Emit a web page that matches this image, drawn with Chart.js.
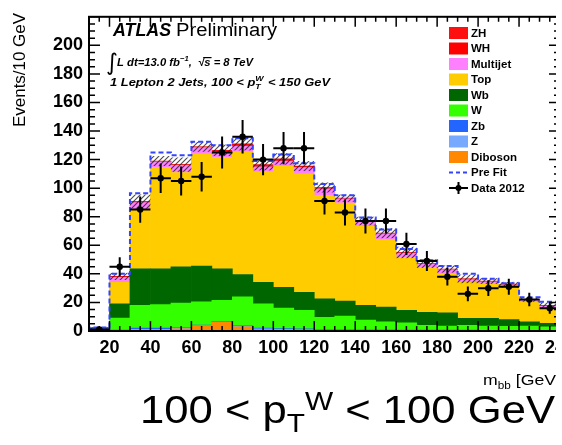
<!DOCTYPE html>
<html>
<head>
<meta charset="utf-8">
<script src="https://cdn.jsdelivr.net/npm/chart.js@4.4.1/dist/chart.umd.min.js"></script>
<style>
  html, body { margin: 0; padding: 0; background: #fff; overflow: hidden; width: 562px; height: 445px; }
  #clip { position: relative; width: 556px; height: 445px; overflow: hidden; }
  #wrap { position: relative; width: 600px; height: 445px; }
</style>
</head>
<body>
<div id="clip"><div id="wrap"><canvas id="c" width="600" height="445"></canvas></div></div>
<script>
// m_bb bin centres (10 GeV bins, 10 - 240 GeV)
const massBins = [15, 25, 35, 45, 55, 65, 75, 85, 95, 105, 115, 125, 135, 145, 155, 165, 175, 185, 195, 205, 215, 225, 235];

// Stacked background / signal contributions (events per bin)
const diboson  = [0, 0, 0.3, 0.3, 1.5, 3.5, 6.0, 3.0, 1.2, 0.6, 0.5, 0.4, 0.4, 0.3, 0.3, 0.3, 0.2, 0.2, 0.2, 0.2, 0.1, 0.1, 0.1];
const zLight   = [0.5, 0.3, 0.8, 0.8, 0.4, 0.3, 0.3, 0.3, 0.4, 0.5, 0.5, 0.4, 0.4, 0.3, 0.3, 0.2, 0.2, 0.2, 0.2, 0.1, 0.1, 0.1, 0.1];
const zHeavy   = [1.5, 0.3, 1.0, 1.0, 0.4, 0.3, 0.3, 0.3, 0.4, 0.6, 0.6, 0.4, 0.4, 0.3, 0.3, 0.2, 0.2, 0.2, 0.2, 0.1, 0.1, 0.1, 0.1];
const wLight   = [0, 8.4, 15.9, 16.4, 17.2, 16.4, 14.9, 20.4, 17.0, 14.3, 12.9, 8.3, 9.3, 6.7, 5.5, 5.0, 3.4, 2.9, 3.4, 3.1, 2.9, 3.2, 2.7];
const wHeavy   = [0, 10, 25.5, 25, 25.5, 25, 22, 15.5, 15, 14.6, 12.5, 13.1, 10.5, 10.4, 10.4, 8.8, 9, 9.2, 4.8, 5.3, 4.8, 2.9, 2.3];
const topQuark = [0, 15, 41.5, 71, 66, 78.5, 78, 86, 77.5, 84.9, 83, 72.4, 68.5, 55.5, 47.2, 37, 31.5, 27.3, 25.2, 24.2, 22.6, 13.9, 11.1];
const multijet = [0, 3.5, 5, 4, 5, 4.5, 4, 4, 3.5, 3.5, 4.5, 4.5, 3, 3, 4, 3, 2.3, 3, 2, 1.5, 1.4, 1.2, 1.1];
const whSignal = [0, 0.4, 0.4, 0.3, 0.3, 0.3, 0.6, 0.9, 0.9, 0.9, 0.6, 0.6, 0.3, 0.3, 0.3, 0.3, 0.2, 0.2, 0.3, 0.3, 0.2, 0.3, 0.3];
const zhSignal = [0, 0.3, 0.2, 0.2, 0.2, 0.2, 0.4, 0.6, 0.6, 0.6, 0.4, 0.4, 0.2, 0.2, 0.2, 0.2, 0.2, 0.2, 0.2, 0.2, 0.2, 0.2, 0.2];

// Systematic uncertainty on the total prediction (half width of hatched band)
const systUnc  = [0.5, 2.5, 5, 3.5, 5, 3.5, 4, 4.5, 4, 4, 3.5, 3.5, 2.5, 3, 3.5, 4, 3, 2.5, 3, 2, 2, 1.5, 2];

// Pre-fit total prediction
const preFit   = [2.5, 40, 96.5, 125, 123, 132.5, 130, 135, 119, 123.5, 117.5, 103, 95, 79.5, 71, 57.5, 49.5, 45.5, 40, 36.5, 33.5, 23.7, 20.5];

// Data 2012 and statistical errors
const data2012 = [1, 45, 85, 107, 105, 108, 125, 136, 120, 128, 128, 91, 83, 77, 77, 61, 49, 38, 26, 30, 31, 22, 16];
const dataErr  = [1, 6.7, 9.2, 10.3, 10.2, 10.4, 11.2, 11.7, 11, 11.3, 11.3, 9.5, 9.1, 8.8, 8.8, 7.8, 7, 6.2, 5.1, 5.5, 5.6, 4.7, 4];

// Axis tick labels
const xTickLabels = [20, 40, 60, 80, 100, 120, 140, 160, 180, 200, 220, 240];
const yTickLabels = [0, 20, 40, 60, 80, 100, 120, 140, 160, 180, 200];

const BIN_W = 10;
const FONT = "'Liberation Sans', Arial, Helvetica, sans-serif";

// stack from bottom to top
const stackDefs = [
  { label: 'Diboson',  values: diboson,  color: '#ff8800' },
  { label: 'Z',        values: zLight,   color: '#77aaff' },
  { label: 'Zb',       values: zHeavy,   color: '#2266ff' },
  { label: 'W',        values: wLight,   color: '#33ff00' },
  { label: 'Wb',       values: wHeavy,   color: '#006600' },
  { label: 'Top',      values: topQuark, color: '#ffcc00' },
  { label: 'Multijet', values: multijet, color: '#ff80ff' },
  { label: 'WH',       values: whSignal, color: '#ff0000' },
  { label: 'ZH',       values: zhSignal, color: '#ff1010' },
];

const totals = massBins.map((_, i) => stackDefs.reduce((s, d) => s + d.values[i], 0));

// pre-fit as a step line through the bin edges
const preFitSteps = [{ x: massBins[0] - BIN_W / 2, y: 0 }];
massBins.forEach((c, i) => preFitSteps.push({ x: c + BIN_W / 2, y: preFit[i] }));

const datasets = [
  {
    type: 'line', label: 'Data 2012', stack: 'data',
    data: massBins.map((c, i) => ({ x: c, y: data2012[i] })),
    showLine: false, pointRadius: 3.2, pointBackgroundColor: '#000', pointBorderColor: '#000', pointBorderWidth: 0
  },
  {
    type: 'line', label: 'Pre Fit', stack: 'prefit',
    data: preFitSteps, stepped: 'after', fill: false,
    borderColor: '#3344ff', borderWidth: 2, borderDash: [5, 3], pointRadius: 0
  },
  ...stackDefs.map(d => ({
    type: 'bar', label: d.label,
    data: massBins.map((c, i) => ({ x: c, y: d.values[i] })),
    backgroundColor: d.color, borderWidth: 0, barPercentage: 1, categoryPercentage: 1
  }))
];

// draws a run of text pieces, squeezing/stretching horizontally so that the
// pieces that count towards the fit span exactly targetW pixels
function drawFitted(ctx, parts, x, y, targetW) {
  const widths = parts.map(p => { ctx.font = p.font; const m = ctx.measureText(p.t).width; return p.noAdvance ? 0 : m; });
  const w = widths.reduce((a, b, i) => a + (parts[i].noFit ? 0 : b), 0);
  const s = targetW ? targetW / w : 1;
  ctx.save();
  ctx.translate(x, y);
  ctx.scale(s, 1);
  let cx = 0;
  parts.forEach((p, i) => {
    ctx.font = p.font;
    ctx.fillText(p.t, cx + (p.dx || 0), p.dy || 0);
    if (p.overline) {
      const mw = ctx.measureText(p.t).width;
      ctx.fillRect(cx + (p.dx || 0) - 1, (p.dy || 0) - p.overline, mw + 2, 1.2);
    }
    cx += widths[i];
  });
  ctx.restore();
}

let hatchPattern = null;
function getHatch(ctx) {
  if (hatchPattern) return hatchPattern;
  const p = document.createElement('canvas');
  p.width = 5; p.height = 5;
  const g = p.getContext('2d');
  g.strokeStyle = 'rgba(30,30,30,0.8)';
  g.lineWidth = 1.1;
  g.beginPath();
  g.moveTo(0, 5); g.lineTo(5, 0);
  g.moveTo(-2.5, 2.5); g.lineTo(2.5, -2.5);
  g.moveTo(2.5, 7.5); g.lineTo(7.5, 2.5);
  g.stroke();
  hatchPattern = ctx.createPattern(p, 'repeat');
  return hatchPattern;
}

const hepDecor = {
  id: 'hepDecor',
  beforeDraw(chart) {
    const ctx = chart.ctx;
    ctx.save();
    ctx.fillStyle = '#fff';
    ctx.fillRect(0, 0, chart.width, chart.height);
    ctx.restore();
  },
  afterDatasetDraw(chart, args) {
    const ctx = chart.ctx;
    const xs = chart.scales.x, ys = chart.scales.y;
    if (args.index === 2) {
      // uncertainty band on the total prediction
      ctx.save();
      ctx.fillStyle = getHatch(ctx);
      massBins.forEach((c, i) => {
        const x0 = xs.getPixelForValue(c - BIN_W / 2), x1 = xs.getPixelForValue(c + BIN_W / 2);
        const y0 = ys.getPixelForValue(totals[i] + systUnc[i]), y1 = ys.getPixelForValue(Math.max(0, totals[i] - systUnc[i]));
        ctx.fillRect(x0, y0, x1 - x0, y1 - y0);
      });
      ctx.restore();
    }
    if (args.index === 1) {
      // data error bars
      ctx.save();
      ctx.strokeStyle = '#000';
      ctx.lineWidth = 2;
      massBins.forEach((c, i) => {
        const xc = xs.getPixelForValue(c), yc = ys.getPixelForValue(data2012[i]);
        ctx.beginPath();
        ctx.moveTo(xs.getPixelForValue(c - BIN_W / 2), yc);
        ctx.lineTo(xs.getPixelForValue(c + BIN_W / 2), yc);
        ctx.moveTo(xc, ys.getPixelForValue(data2012[i] + dataErr[i]));
        ctx.lineTo(xc, ys.getPixelForValue(Math.max(0, data2012[i] - dataErr[i])));
        ctx.stroke();
      });
      ctx.restore();
    }
  },
  afterDraw(chart) {
    const ctx = chart.ctx;
    const xs = chart.scales.x, ys = chart.scales.y;
    const { left: L, right: R, top: T, bottom: B } = chart.chartArea;
    ctx.save();
    ctx.strokeStyle = '#000';
    ctx.lineWidth = 2;
    ctx.strokeRect(L, T, R - L, B - T);

    // ticks on all four sides, pointing inwards
    ctx.lineWidth = 1.5;
    ctx.beginPath();
    for (let v = 10; v <= 240; v += 5) {
      const px = xs.getPixelForValue(v);
      const len = v % 20 === 0 ? 10 : 5;
      ctx.moveTo(px, B); ctx.lineTo(px, B - len);
      ctx.moveTo(px, T); ctx.lineTo(px, T + len);
    }
    for (let v = 0; v <= 220; v += 5) {
      const py = ys.getPixelForValue(v);
      const len = v % 20 === 0 ? 11 : 6;
      ctx.moveTo(L, py); ctx.lineTo(L + len, py);
      ctx.moveTo(R, py); ctx.lineTo(R - len, py);
    }
    ctx.stroke();

    ctx.fillStyle = '#000';
    ctx.textBaseline = 'alphabetic';
    ctx.textAlign = 'left';

    // header
    drawFitted(ctx, [{ t: 'ATLAS', font: `italic bold 18px ${FONT}` }], 113, 36, 58);
    drawFitted(ctx, [{ t: 'Preliminary', font: `18px ${FONT}` }], 176, 36, 101);
    ctx.font = `23px 'DejaVu Sans', ${FONT}`;
    ctx.fillText('\u222B', 106, 70);
    const bi = `italic bold 11px ${FONT}`, biSup = `italic bold 7.5px ${FONT}`;
    drawFitted(ctx, [
      { t: 'L dt=13.0 fb', font: bi },
      { t: '\u22121', font: biSup, dy: -5 },
      { t: ',  ', font: bi },
      { t: '\u221A', font: bi },
      { t: 's', font: bi, overline: 9 },
      { t: ' = 8 TeV', font: bi }
    ], 117, 66, 136);
    drawFitted(ctx, [
      { t: '1 Lepton 2 Jets, 100 < p', font: bi },
      { t: 'W', font: biSup, dy: -5, noAdvance: true },
      { t: 'T', font: biSup, dy: 3 },
      { t: '  < 150 GeV', font: bi }
    ], 110, 86, 220);

    // legend
    const rowY = [33, 48.5, 64, 79.5, 95, 110.5, 126, 141.5, 157, 172.5, 188];
    const legItems = stackDefs.slice().reverse();
    ctx.font = `bold 11.5px ${FONT}`;
    ctx.textBaseline = 'middle';
    legItems.forEach((d, i) => {
      ctx.fillStyle = d.color;
      ctx.fillRect(449, rowY[i] - 6, 19, 12);
      ctx.fillStyle = '#000';
      ctx.fillText(d.label, 471, rowY[i] + 0.5);
    });
    const yPF = rowY[9];
    ctx.strokeStyle = '#3344ff'; ctx.lineWidth = 2; ctx.setLineDash([4, 3]);
    ctx.beginPath(); ctx.moveTo(449, yPF); ctx.lineTo(468, yPF); ctx.stroke();
    ctx.setLineDash([]);
    ctx.fillText('Pre Fit', 471, yPF + 0.5);
    const yD = rowY[10];
    ctx.strokeStyle = '#000'; ctx.lineWidth = 2;
    ctx.beginPath(); ctx.moveTo(449, yD); ctx.lineTo(468, yD); ctx.moveTo(458.5, yD - 6); ctx.lineTo(458.5, yD + 6); ctx.stroke();
    ctx.beginPath(); ctx.arc(458.5, yD, 3, 0, Math.PI * 2); ctx.fill();
    ctx.fillText('Data 2012', 471, yD + 0.5);

    // y-axis title
    ctx.textBaseline = 'alphabetic';
    ctx.save();
    ctx.translate(25, 127);
    ctx.rotate(-Math.PI / 2);
    drawFitted(ctx, [{ t: 'Events/10 GeV', font: `16px ${FONT}` }], 0, 0, 114);
    ctx.restore();

    // x-axis title
    drawFitted(ctx, [
      { t: 'm', font: `15px ${FONT}` },
      { t: 'bb', font: `10px ${FONT}`, dy: 4 },
      { t: ' [GeV', font: `15px ${FONT}` },
      { t: ']', font: `15px ${FONT}`, noFit: true }
    ], 483, 385, 73);

    // panel caption
    const big = `38px ${FONT}`, small = `26px ${FONT}`;
    drawFitted(ctx, [
      { t: '100 < p', font: big },
      { t: 'T', font: small, dy: 9 },
      { t: 'W', font: small, dy: -13 },
      { t: ' < 100 GeV', font: big }
    ], 140, 423, 415);
    ctx.restore();
  }
};

const chart = new Chart(document.getElementById('c').getContext('2d'), {
  type: 'bar',
  data: { datasets },
  options: {
    responsive: false,
    animation: false,
    devicePixelRatio: 1,
    events: [],
    layout: { padding: { left: 0, right: 40, top: 13, bottom: 0 } },
    plugins: { legend: { display: false }, tooltip: { enabled: false } },
    scales: {
      x: {
        type: 'linear', min: 10, max: 240, offset: false, stacked: true,
        grid: { display: false, offset: false, drawTicks: false }, border: { display: false },
        afterBuildTicks: s => { s.ticks = xTickLabels.map(v => ({ value: v })); },
        afterFit: s => { s.height = 445 - 331; },
        ticks: { font: { family: FONT, size: 18, weight: 'bold' }, color: '#000', padding: 6, maxRotation: 0, autoSkip: false }
      },
      y: {
        min: 0, max: 220, stacked: true,
        grid: { display: false, drawTicks: false }, border: { display: false },
        afterBuildTicks: s => { s.ticks = yTickLabels.map(v => ({ value: v })); },
        afterFit: s => { s.width = 89; },
        ticks: { font: { family: FONT, size: 18, weight: 'bold' }, color: '#000', padding: 6, autoSkip: false }
      }
    }
  },
  plugins: [hepDecor]
});
</script>
</body>
</html>
